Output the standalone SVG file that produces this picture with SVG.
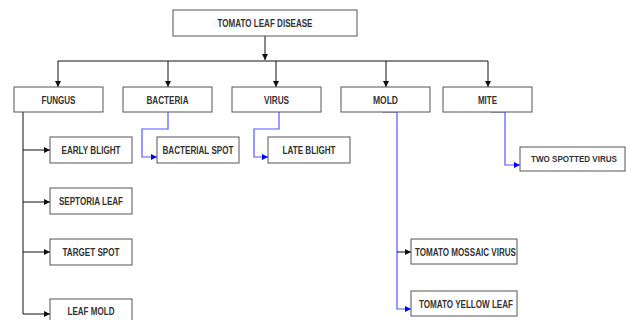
<svg xmlns="http://www.w3.org/2000/svg" width="627" height="320" viewBox="0 0 627 320">
<defs>
<style>
.box{fill:#fff;stroke:#555;stroke-width:1}
.t{font-family:"Liberation Sans",Arial,sans-serif;font-size:10.5px;font-weight:bold;fill:#333;text-anchor:middle;dominant-baseline:central}
.s{font-size:9px}
.k{fill:none;stroke:#111;stroke-width:1}
.b{fill:none;stroke:#5555ff;stroke-width:1.2}
</style>
<marker id="ak" markerWidth="6" markerHeight="6" refX="6" refY="3" orient="auto" markerUnits="userSpaceOnUse"><path d="M0,0 L6,3 L0,6 Z" fill="#111"/></marker>
<marker id="ab" markerWidth="6" markerHeight="6" refX="6" refY="3" orient="auto" markerUnits="userSpaceOnUse"><path d="M0,0 L6,3 L0,6 Z" fill="#0000ff"/></marker>
</defs>
<rect width="627" height="320" fill="#fff"/>
<g id="connectors">
<path class="k" d="M265,36 V60" marker-end="url(#ak)"/>
<path class="k" d="M58,61 H488"/>
<path class="k" d="M58,61 V87" marker-end="url(#ak)"/>
<path class="k" d="M168,61 V87" marker-end="url(#ak)"/>
<path class="k" d="M276,61 V87" marker-end="url(#ak)"/>
<path class="k" d="M386,61 V87" marker-end="url(#ak)"/>
<path class="k" d="M488,61 V87" marker-end="url(#ak)"/>
<path class="k" d="M23,112 V314 H50" marker-end="url(#ak)"/>
<path class="k" d="M23,150 H50" marker-end="url(#ak)"/>
<path class="k" d="M23,202 H50" marker-end="url(#ak)"/>
<path class="k" d="M23,252 H50" marker-end="url(#ak)"/>
<path class="b" d="M168,112 V129 H142 V157 H157" marker-end="url(#ab)"/>
<path class="b" d="M279,112 V129 H254 V157 H268" marker-end="url(#ab)"/>
<path class="b" d="M382,112 H397 V309 H411" marker-end="url(#ab)"/>
<path class="k" d="M397,252 H411" marker-end="url(#ak)"/>
<path class="b" d="M491,112 H505 V165 H520" marker-end="url(#ab)"/>
</g>
<g id="n-root"><rect class="box" x="173" y="10" width="184" height="26"/><text class="t" x="265" y="23" textLength="95" lengthAdjust="spacingAndGlyphs">TOMATO LEAF DISEASE</text></g>
<g id="n-fungus"><rect class="box" x="14" y="87" width="89" height="25"/><text class="t" x="58.5" y="99.5" textLength="34" lengthAdjust="spacingAndGlyphs">FUNGUS</text></g>
<g id="n-bacteria"><rect class="box" x="123" y="87" width="89" height="25"/><text class="t" x="167.5" y="99.5" textLength="42" lengthAdjust="spacingAndGlyphs">BACTERIA</text></g>
<g id="n-virus"><rect class="box" x="232" y="87" width="89" height="25"/><text class="t" x="276.5" y="99.5" textLength="25" lengthAdjust="spacingAndGlyphs">VIRUS</text></g>
<g id="n-mold"><rect class="box" x="341" y="87" width="89" height="25"/><text class="t" x="385.5" y="99.5" textLength="25" lengthAdjust="spacingAndGlyphs">MOLD</text></g>
<g id="n-mite"><rect class="box" x="443" y="87" width="89" height="25"/><text class="t" x="487.5" y="99.5" textLength="19" lengthAdjust="spacingAndGlyphs">MITE</text></g>
<g id="n-early"><rect class="box" x="50" y="137" width="82" height="26"/><text class="t" x="91" y="150" textLength="59" lengthAdjust="spacingAndGlyphs">EARLY BLIGHT</text></g>
<g id="n-septoria"><rect class="box" x="50" y="188" width="82" height="26"/><text class="t" x="91" y="201" textLength="64" lengthAdjust="spacingAndGlyphs">SEPTORIA LEAF</text></g>
<g id="n-target"><rect class="box" x="50" y="239" width="82" height="26"/><text class="t" x="91" y="252" textLength="57" lengthAdjust="spacingAndGlyphs">TARGET SPOT</text></g>
<g id="n-leafmold"><rect class="box" x="50" y="299" width="82" height="26"/><text class="t" x="91" y="311" textLength="47" lengthAdjust="spacingAndGlyphs">LEAF MOLD</text></g>
<g id="n-bacspot"><rect class="box" x="157" y="137" width="82" height="26"/><text class="t" x="198" y="150" textLength="71" lengthAdjust="spacingAndGlyphs">BACTERIAL SPOT</text></g>
<g id="n-late"><rect class="box" x="268" y="137" width="82" height="26"/><text class="t" x="309" y="150" textLength="53" lengthAdjust="spacingAndGlyphs">LATE BLIGHT</text></g>
<g id="n-twospot"><rect class="box" x="520" y="147" width="105" height="24"/><text class="t s" x="574" y="159" textLength="86" lengthAdjust="spacingAndGlyphs">TWO SPOTTED VIRUS</text></g>
<g id="n-mosaic"><rect class="box" x="411" y="239" width="106" height="25"/><text class="t" x="465.5" y="251.5" textLength="101" lengthAdjust="spacingAndGlyphs">TOMATO MOSSAIC VIRUS</text></g>
<g id="n-yellow"><rect class="box" x="411" y="291" width="106" height="25"/><text class="t" x="466" y="303.5" textLength="94" lengthAdjust="spacingAndGlyphs">TOMATO YELLOW LEAF</text></g>
</svg>
